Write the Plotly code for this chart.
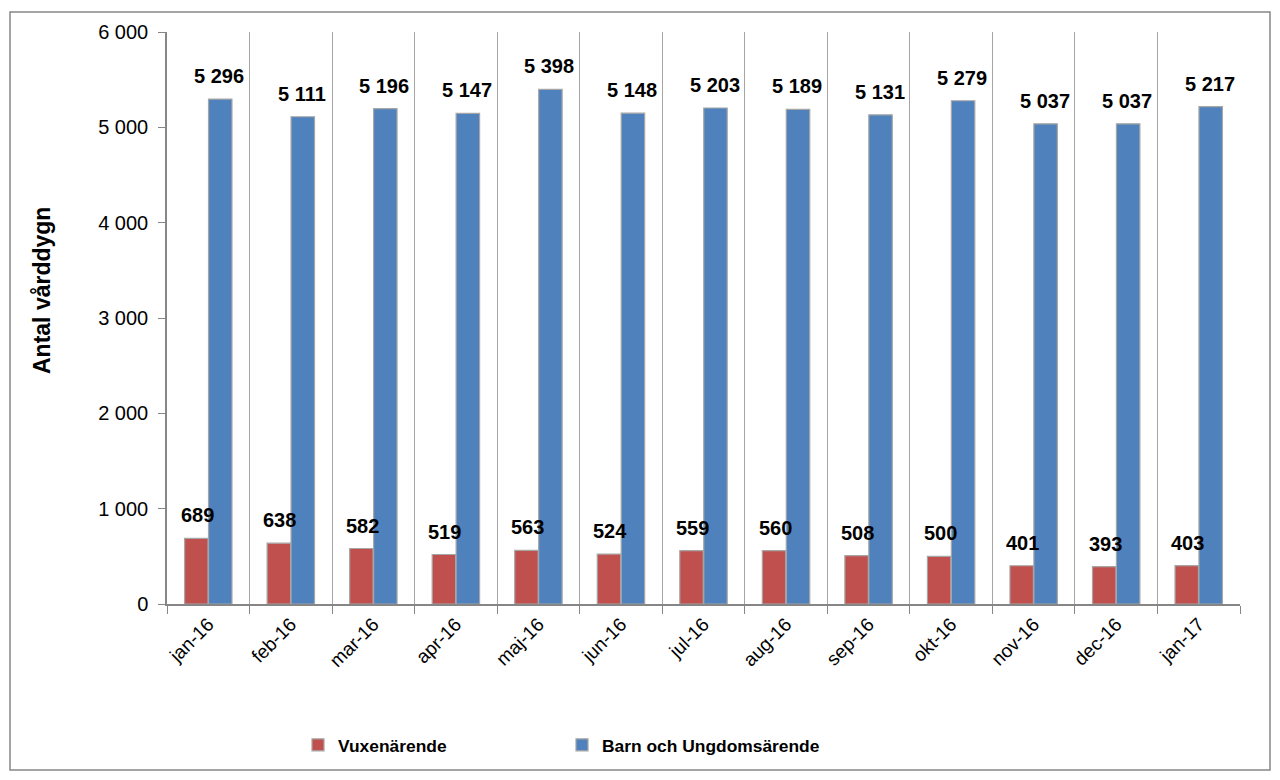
import plotly.graph_objects as go

months = ["jan-16", "feb-16", "mar-16", "apr-16", "maj-16", "jun-16", "jul-16",
          "aug-16", "sep-16", "okt-16", "nov-16", "dec-16", "jan-17"]
vuxen = [689, 638, 582, 519, 563, 524, 559, 560, 508, 500, 401, 393, 403]
barn = [5296, 5111, 5196, 5147, 5398, 5148, 5203, 5189, 5131, 5279, 5037, 5037, 5217]

W, H = 1280, 780
ML, MR, MT, MB = 167, 40, 32, 176
pw, ph = W - ML - MR, H - MT - MB

def fmt(v):
    return f"{v:,}".replace(",", " ")

FONT = "Liberation Sans, Arial, sans-serif"
LABEL_FONT = dict(family=FONT, size=20, color="black", weight="bold")

fig = go.Figure()
fig.add_trace(go.Bar(
    x=months, y=vuxen, name="Vuxenärende",
    marker=dict(color="#C0504D", line=dict(color="#A6A6A6", width=1.2)),
))
fig.add_trace(go.Bar(
    x=months, y=barn, name="Barn och Ungdomsärende",
    marker=dict(color="#4F81BD", line=dict(color="#A6A6A6", width=1.2)),
))

annotations = []
for m, v in zip(months, vuxen):
    annotations.append(dict(x=m, y=v, xref="x", yref="y", text=fmt(v), showarrow=False,
                            xshift=-11, yshift=10, yanchor="bottom", font=LABEL_FONT))
for m, v in zip(months, barn):
    annotations.append(dict(x=m, y=v, xref="x", yref="y", text=fmt(v), showarrow=False,
                            xshift=11, yshift=10, yanchor="bottom", font=LABEL_FONT))
annotations.append(dict(x=(42 - ML) / pw, y=(604 - 291) / ph, xref="paper", yref="paper",
                        text="Antal vårddygn", showarrow=False, textangle=-90,
                        xanchor="center", yanchor="middle",
                        font=dict(family=FONT, size=23, color="black", weight="bold")))

fig.update_layout(
    width=W, height=H,
    margin=dict(l=ML, r=MR, t=MT, b=MB),
    paper_bgcolor="white", plot_bgcolor="white",
    barmode="group", bargap=0.42, bargroupgap=0.02,
    separators=", ",
    font=dict(family=FONT, size=14, color="black"),
    showlegend=True,
    annotations=annotations,
    legend=dict(orientation="h", x=(298 - ML) / pw, xanchor="left",
                y=-(745 - 604) / ph, yanchor="middle",
                entrywidth=219, entrywidthmode="pixels",
                font=dict(family=FONT, size=17.4, color="black", weight="bold"),
                itemwidth=30),
    shapes=[dict(type="rect", xref="paper", yref="paper",
                 x0=(10 - ML) / pw, x1=(1270 - ML) / pw,
                 y0=(604 - 770) / ph, y1=(604 - 12) / ph,
                 line=dict(color="#868686", width=1.5), fillcolor="rgba(0,0,0,0)",
                 layer="below")],
)

fig.update_xaxes(
    type="category", tickson="boundaries", showgrid=True, gridcolor="#A6A6A6", gridwidth=1,
    showline=True, linecolor="#868686", linewidth=1.5,
    ticks="outside", ticklen=8, tickcolor="#868686",
    tickangle=-45, tickfont=dict(family=FONT, size=19, color="black"),
    automargin=False,
)
fig.update_yaxes(
    range=[0, 6000], dtick=1000, tickformat=",d",
    showgrid=False, zeroline=False,
    showline=True, linecolor="#868686", linewidth=1.5,
    ticks="outside", ticklen=7, tickcolor="#868686",
    ticklabelstandoff=6,
    tickfont=dict(family=FONT, size=20, color="black"),
    automargin=False,
)

fig.write_html("out.html", config={"displayModeBar": False},
               post_script="document.body.style.margin='0';document.body.style.overflow='hidden';")
